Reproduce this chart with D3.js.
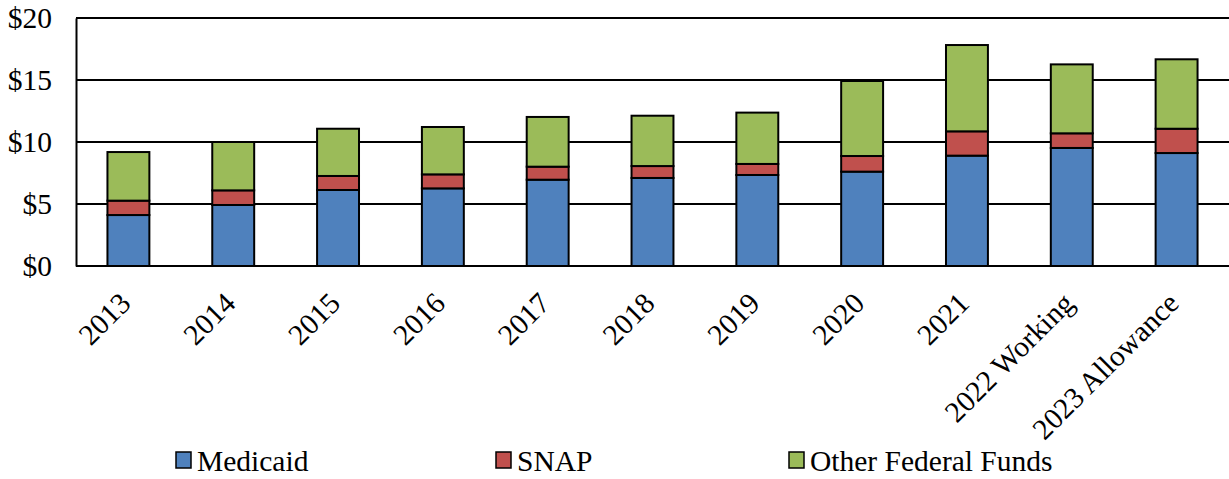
<!DOCTYPE html>
<html>
<head>
<meta charset="utf-8">
<script src="https://cdn.jsdelivr.net/npm/d3@7"></script>
<style>
  body { margin: 0; background: #fff; }
  text { font-family: "Liberation Serif", "Times New Roman", serif; fill: #000; }
</style>
</head>
<body>
<div id="chart"></div>
<script>
// data (billions)
var years = ["2013", "2014", "2015", "2016", "2017", "2018", "2019", "2020", "2021", "2022 Working", "2023 Allowance"];
var medicaid = [4.11, 4.92, 6.13, 6.26, 6.96, 7.10, 7.34, 7.61, 8.90, 9.52, 9.11];
var snap = [1.16, 1.18, 1.13, 1.13, 1.05, 0.96, 0.89, 1.26, 1.96, 1.18, 1.96];
var otherFed = [3.92, 3.90, 3.81, 3.82, 4.01, 4.06, 4.14, 6.05, 6.96, 5.56, 5.60];
var seriesNames = ["Medicaid", "SNAP", "Other Federal Funds"];
var seriesColors = ["#4f81bd", "#c0504d", "#9bbb59"];
var yTicks = [0, 5, 10, 15, 20];

var W = 1229, H = 479;
var margin = {top: 18, right: 0, bottom: 213, left: 76},
    width = W - margin.left - margin.right,
    height = H - margin.top - margin.bottom;
var fontSize = "29.5px";

var table = years.map(function(y, i) {
  return {year: y, Medicaid: medicaid[i], SNAP: snap[i], "Other Federal Funds": otherFed[i]};
});
var stacked = d3.stack().keys(seriesNames)(table);

var x = d3.scaleBand().domain(years).range([0, width]).paddingInner(0.6).paddingOuter(0.3);
var y = d3.scaleLinear().domain([0, 20]).range([height, 0]);

var svg = d3.select("#chart").append("svg")
    .attr("width", W)
    .attr("height", H)
  .append("g")
    .attr("transform", "translate(" + margin.left + "," + margin.top + ")");

// gridlines
svg.append("g")
    .selectAll("line")
    .data(yTicks)
  .enter().append("line")
    .attr("x1", 0)
    .attr("x2", width)
    .attr("y1", function(d) { return y(d); })
    .attr("y2", function(d) { return y(d); })
    .attr("stroke", "#000")
    .attr("stroke-width", 2);

// y axis labels
var yAxis = d3.axisLeft(y).tickValues(yTicks).tickSize(0).tickPadding(24)
    .tickFormat(function(d) { return "$" + d; });
var gy = svg.append("g").call(yAxis);
gy.select(".domain").attr("stroke", "#000").attr("stroke-width", 2);
gy.selectAll("text")
    .style("font-family", "Liberation Serif, serif")
    .style("font-size", fontSize)
    .attr("fill", "#000");

// stacked bars
svg.append("g")
    .selectAll("g")
    .data(stacked)
  .enter().append("g")
    .attr("fill", function(d, i) { return seriesColors[i]; })
  .selectAll("rect")
    .data(function(d) { return d; })
  .enter().append("rect")
    .attr("x", function(d) { return x(d.data.year); })
    .attr("y", function(d) { return y(d[1]); })
    .attr("width", x.bandwidth())
    .attr("height", function(d) { return y(d[0]) - y(d[1]); })
    .attr("stroke", "#000")
    .attr("stroke-width", 2);

// x labels, rotated
svg.append("g")
    .selectAll("text")
    .data(years)
  .enter().append("text")
    .attr("transform", function(d) {
      return "translate(" + (x(d) + x.bandwidth() / 2 + 4) + "," + (height + 39) + ") rotate(-45)";
    })
    .attr("text-anchor", "end")
    .style("font-size", fontSize)
    .text(function(d) { return d; });

// legend
var legendX = [176, 496, 789];
var legend = svg.append("g")
    .selectAll("g")
    .data(seriesNames)
  .enter().append("g")
    .attr("transform", function(d, i) { return "translate(" + (legendX[i] - margin.left) + "," + (452 - margin.top) + ")"; });

legend.append("rect")
    .attr("width", 15)
    .attr("height", 16)
    .attr("fill", function(d, i) { return seriesColors[i]; })
    .attr("stroke", "#000")
    .attr("stroke-width", 1.5);

legend.append("text")
    .attr("x", 21)
    .attr("y", 19)
    .style("font-size", fontSize)
    .text(function(d) { return d; });
</script>
</body>
</html>
